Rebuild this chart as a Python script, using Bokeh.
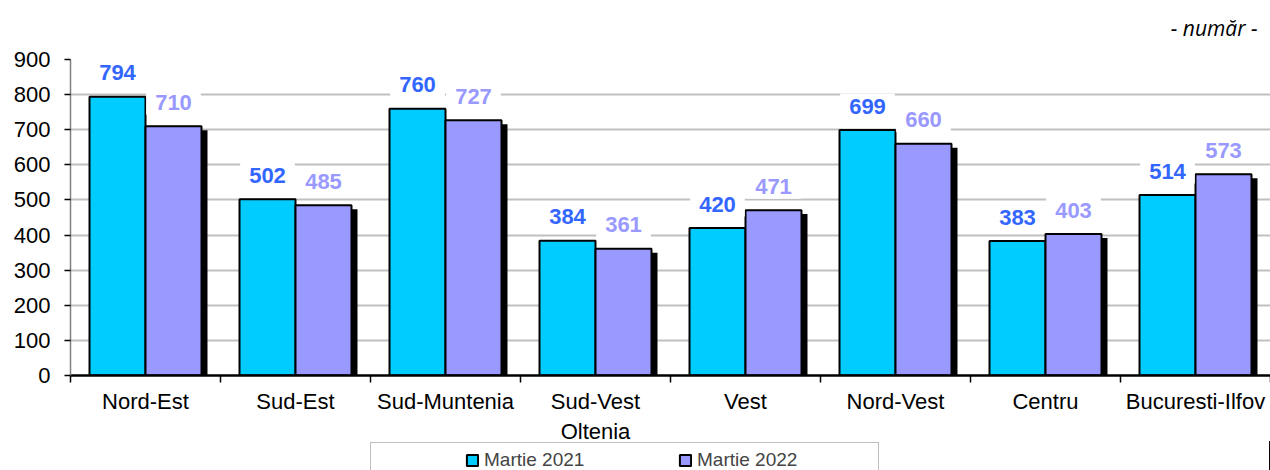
import numpy as np
from bokeh.plotting import figure
from bokeh.layouts import column
from bokeh.models import (ColumnDataSource, Range1d, FixedTicker, Legend, LegendItem,
                          Label, SingleIntervalTicker)
from bokeh.transform import dodge
from bokeh.core.properties import value
from bokeh.embed import file_html
from bokeh.resources import INLINE

regions = ["Nord-Est", "Sud-Est", "Sud-Muntenia", "Sud-Vest\nOltenia", "Vest",
           "Nord-Vest", "Centru", "Bucuresti-Ilfov"]
martie_2021 = [794, 502, 760, 384, 420, 699, 383, 514]
martie_2022 = [710, 485, 727, 361, 471, 660, 403, 573]
series_names = ["Martie 2021", "Martie 2022"]
unit_note = "- număr -"

C21 = "#00CCFF"
C22 = "#9999FF"
L21 = "#3366FF"
L22 = "#9999FF"
FONT = "Liberation Sans"

n = len(regions)
pos = np.arange(n) + 0.5
BW = 0.3733
px_per_unit = 318 / 900.0
shadow_drop = 4 / px_per_unit

src = ColumnDataSource(dict(
    pos=pos,
    v21=martie_2021,
    v22=martie_2022,
    s22=[v - shadow_drop for v in martie_2022],
    t21=[str(v) for v in martie_2021],
    t22=[str(v) for v in martie_2022],
))

# strip above the chart holding the unit note
p0 = figure(width=1270, height=40, x_range=Range1d(0, 1200), y_range=Range1d(0, 40),
            output_backend="svg", toolbar_location=None,
            x_axis_location=None, y_axis_location=None, min_border=0)
p0.outline_line_color = None
p0.xgrid.visible = False
p0.ygrid.visible = False
p0.add_layout(Label(x=1187, y=12.4, text=unit_note, text_align="right",
                    text_baseline="alphabetic", text_font="Open Sans",
                    text_font_style="italic", text_font_size="21px", text_color="black"))

p = figure(width=1270, height=406, x_range=Range1d(0, n), y_range=Range1d(0, 900),
           output_backend="svg", toolbar_location=None,
           min_border_left=70, min_border_right=0, min_border_top=19, min_border_bottom=69)
p.outline_line_color = None
p.background_fill_color = "white"

# shadow of second series
p.vbar(x=dodge("pos", BW / 2 + 0.04, range=p.x_range), top="s22", bottom=0, width=BW,
       source=src, fill_color="black", line_color=None)
r1 = p.vbar(x=dodge("pos", -BW / 2, range=p.x_range), top="v21", bottom=0, width=BW,
            source=src, fill_color=C21, line_color="black", line_width=2)
r2 = p.vbar(x=dodge("pos", BW / 2, range=p.x_range), top="v22", bottom=0, width=BW,
            source=src, fill_color=C22, line_color="black", line_width=2)

pad = dict(left=9, right=9, top=5, bottom=5)
p.text(x=dodge("pos", -BW / 2, range=p.x_range), y="v21", text="t21", source=src,
       text_font=value(FONT), text_font_style="bold", text_font_size="22px",
       text_color=L21, text_align="center", text_baseline="middle", y_offset=-24,
       background_fill_color="white", padding=pad)
p.text(x=dodge("pos", BW / 2, range=p.x_range), y="v22", text="t22", source=src,
       text_font=value(FONT), text_font_style="bold", text_font_size="22px",
       text_color=L22, text_align="center", text_baseline="middle", y_offset=-24,
       background_fill_color="white", padding=pad)

# grid
p.xgrid.grid_line_color = None
p.ygrid.grid_line_color = "#C0C0C0"
p.ygrid.grid_line_width = 2

# y axis
ya = p.yaxis[0]
ya.ticker = SingleIntervalTicker(interval=100, num_minor_ticks=0)
ya.axis_line_color = "#808080"
ya.axis_line_width = 1.5
ya.major_tick_line_color = "black"
ya.major_tick_line_width = 1.5
ya.major_tick_in = 0
ya.major_tick_out = 6
ya.minor_tick_line_color = None
ya.major_label_text_font = FONT
ya.major_label_text_font_size = "22px"
ya.major_label_text_color = "black"
ya.major_label_standoff = 14

# x axis
xa = p.xaxis[0]
xa.ticker = FixedTicker(ticks=list(pos), minor_ticks=list(range(n + 1)))
xa.major_label_overrides = {float(x): lab for x, lab in zip(pos, regions)}
xa.axis_line_color = "black"
xa.axis_line_width = 2.5
xa.major_tick_line_color = None
xa.minor_tick_line_color = "black"
xa.minor_tick_line_width = 1.5
xa.minor_tick_in = 0
xa.minor_tick_out = 7
xa.major_label_text_font = FONT
xa.major_label_text_font_size = "22px"
xa.major_label_text_color = "black"
xa.major_label_standoff = 6

# legend strip below the chart
p2 = figure(width=1270, height=29, x_range=Range1d(-20, -19), y_range=Range1d(0, 1),
            output_backend="svg", toolbar_location=None,
            x_axis_location=None, y_axis_location=None, min_border=0)
p2.margin = (-5, 0, 0, 0)
p2.outline_line_color = None
p2.border_fill_alpha = 0
p2.background_fill_alpha = 0
p2.xgrid.visible = False
p2.ygrid.visible = False
k1 = p2.vbar(x="pos", top="v21", width=BW, source=src, fill_color=C21,
             line_color="black", line_width=2)
k2 = p2.vbar(x="pos", top="v22", width=BW, source=src, fill_color=C22,
             line_color="black", line_width=2)
legend = Legend(items=[LegendItem(label=series_names[0], renderers=[k1]),
                       LegendItem(label=series_names[1], renderers=[k2])],
                location=(300, -8), orientation="horizontal",
                border_line_color="#808080", border_line_width=1.5,
                background_fill_color="white", background_fill_alpha=1,
                padding=6, spacing=19, label_width=175, label_standoff=5,
                glyph_width=14, glyph_height=14, label_height=20,
                label_text_font=FONT, label_text_font_size="19px",
                title=" ", title_location="left", title_text_font_size="1px",
                title_standoff=87, margin=0)
p2.add_layout(legend)

layout = column(p0, p, p2, spacing=0)
open("out.html", "w").write(file_html(layout, INLINE))
